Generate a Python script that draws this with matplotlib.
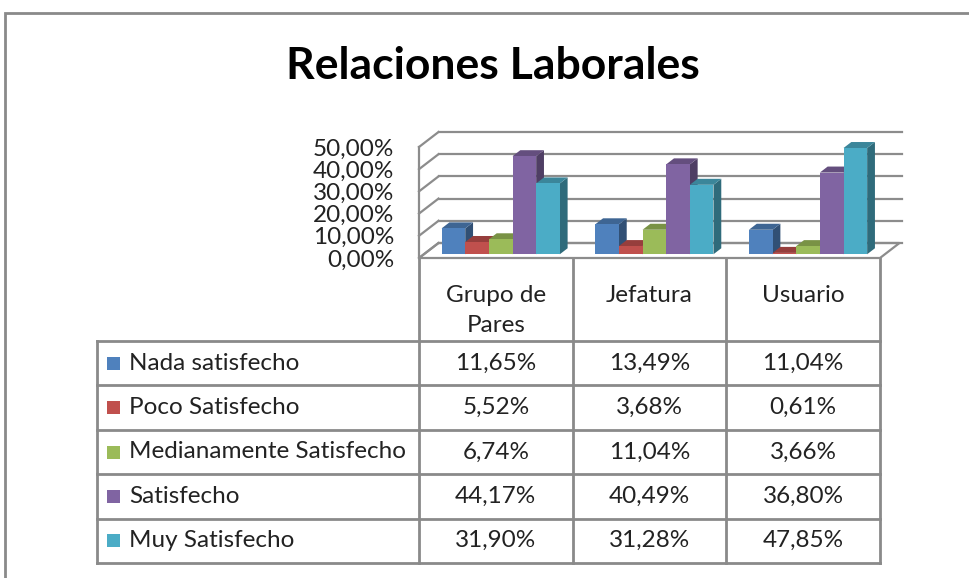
import numpy as np
import matplotlib
matplotlib.use("Agg")
import matplotlib.pyplot as plt
from matplotlib.patches import Polygon, Rectangle
from matplotlib.colors import to_rgb

plt.rcParams['font.family'] = ['Lato', 'DejaVu Sans']

# data
categories = ["Grupo de\nPares", "Jefatura", "Usuario"]
series = ["Nada satisfecho", "Poco Satisfecho", "Medianamente Satisfecho",
          "Satisfecho", "Muy Satisfecho"]
nada = [11.65, 13.49, 11.04]
poco = [5.52, 3.68, 0.61]
mediana = [6.74, 11.04, 3.66]
satisf = [44.17, 40.49, 36.80]
muy = [31.90, 31.28, 47.85]
values = [nada, poco, mediana, satisf, muy]
colors = ["#4F81BD", "#C0504D", "#9BBB59", "#8064A2", "#4BACC6"]
y_ticks = [0, 10, 20, 30, 40, 50]

W, H = 969, 578
fig = plt.figure(figsize=(W / 100, H / 100), dpi=100)
fig.patch.set_facecolor("white")

# plot box in pixels (front plane)
px_left, px_right = 419, 880
px_bottom, px_top = 258, 147
ax = fig.add_axes([px_left / W, 1 - px_bottom / H,
                   (px_right - px_left) / W, (px_bottom - px_top) / H])
n = len(categories)
ax.set_xlim(0, n)
ax.set_ylim(0, 50)
for s in ax.spines.values():
    s.set_visible(False)
ax.set_xticks([])
ax.set_yticks(y_ticks)
ax.set_yticklabels([f"{v:.2f}%".replace(".", ",") for v in y_ticks],
                   fontsize=17.5, color="#222222")
ax.tick_params(axis="y", length=0, pad=18)
ax.patch.set_alpha(0)

# depth of the 3d box, converted from pixels to data units
ux = n / (px_right - px_left)
uy = 50 / (px_bottom - px_top)
dx, dy = 19.5 * ux, 15 * uy
grid_c = "#8c8c8c"

# floor
ax.add_patch(Polygon([(0, 0), (n, 0), (n + dx, dy), (dx, dy)], closed=True,
                     facecolor="white", edgecolor=grid_c, lw=1.6, clip_on=False, zorder=1))
# back wall gridlines and left wall
for t in y_ticks:
    ax.plot([dx, n + dx * 1.15], [t + dy, t + dy], color=grid_c, lw=1.6,
            clip_on=False, zorder=1)
    ax.plot([0, dx], [t, t + dy], color=grid_c, lw=1.6, clip_on=False, zorder=1)
ax.plot([0, 0], [0, 50], color=grid_c, lw=1.6, clip_on=False, zorder=1)


def shade(c, k):
    r, g, b = to_rgb(c)
    return (r * k, g * k, b * k)


# bars
w = 1 / 6.5
f0, f1 = 0.25, 0.65
sx0, sy0 = f0 * dx, f0 * dy
sx1, sy1 = f1 * dx, f1 * dy
for i in range(n):
    for j, vals in enumerate(values):
        v = vals[i]
        x0 = i + 0.75 * w + j * w
        c = colors[j]
        front = Rectangle((x0 + sx0, sy0), w, v, facecolor=c, edgecolor="none",
                          clip_on=False, zorder=3)
        top = Polygon([(x0 + sx0, v + sy0), (x0 + w + sx0, v + sy0),
                       (x0 + w + sx1, v + sy1), (x0 + sx1, v + sy1)], closed=True,
                      facecolor=shade(c, 0.78), edgecolor="none", clip_on=False, zorder=3)
        side = Polygon([(x0 + w + sx0, sy0), (x0 + w + sx1, sy1),
                        (x0 + w + sx1, v + sy1), (x0 + w + sx0, v + sy0)], closed=True,
                       facecolor=shade(c, 0.62), edgecolor="none", clip_on=False, zorder=3)
        ax.add_patch(side)
        ax.add_patch(top)
        ax.add_patch(front)

# overlay in pixel coordinates for title, table and frame
ov = fig.add_axes([0, 0, 1, 1], zorder=-1)
ov.set_xlim(0, W)
ov.set_ylim(H, 0)
ov.axis("off")

ov.add_patch(Rectangle((5, 13), W + 20, H + 20, facecolor="white",
                       edgecolor="#8a8a8a", lw=2))
ov.text(493, 66, "Relaciones Laborales", fontsize=32, fontweight="bold",
        ha="center", va="center", color="black")

line_c = "#8a8a8a"
col_w = (px_right - px_left) / n
col_edges = [px_left + k * col_w for k in range(n + 1)]
leg_left = 97
head_bottom = 341
row_h = 44.4
row_edges = [head_bottom + k * row_h for k in range(len(series) + 1)]

# header cells
for x in col_edges:
    ov.plot([x, x], [px_bottom, row_edges[-1]], color=line_c, lw=2)
ov.plot([leg_left, leg_left], [head_bottom, row_edges[-1]], color=line_c, lw=2)
for y in row_edges:
    ov.plot([leg_left, px_right], [y, y], color=line_c, lw=2)

for i, cat in enumerate(categories):
    cx = (col_edges[i] + col_edges[i + 1]) / 2
    ov.text(cx, 285, cat, fontsize=17.5, ha="center", va="top",
            linespacing=1.55, color="#222222")

for j, name in enumerate(series):
    cy = (row_edges[j] + row_edges[j + 1]) / 2
    ov.add_patch(Rectangle((107, cy - 6.5), 13, 13, facecolor=colors[j],
                           edgecolor="none"))
    ov.text(129, cy, name, fontsize=17.5, ha="left", va="center", color="#222222")
    for i in range(n):
        cx = (col_edges[i] + col_edges[i + 1]) / 2
        txt = f"{values[j][i]:.2f}%".replace(".", ",")
        ov.text(cx, cy, txt, fontsize=17.5, ha="center", va="center", color="#222222")

fig.savefig("out.png", dpi=100, facecolor="white")
